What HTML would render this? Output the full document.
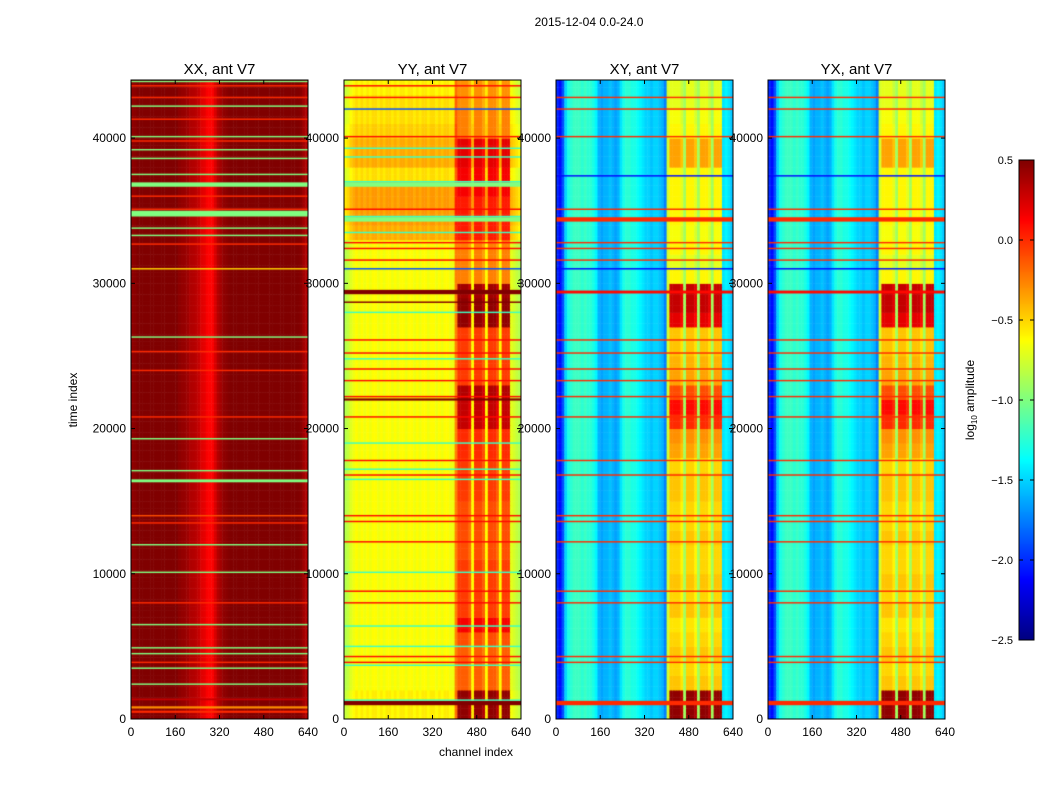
<!DOCTYPE html>
<html><head><meta charset="utf-8">
<style>
body{margin:0;background:#fff;}
#root{position:relative;width:1050px;height:800px;overflow:hidden;background:#fff;font-family:"Liberation Sans",sans-serif;}
canvas{position:absolute;}
svg{position:absolute;left:0;top:0;}
</style></head>
<body>
<div id="root">
<svg id="ov" width="1050" height="800"></svg>
</div>
<script>
// ---------- data ----------
const panelTitles = ["XX, ant V7","YY, ant V7","XY, ant V7","YX, ant V7"];
const xTicks = [0,160,320,480,640];
const yTicks = [0,10000,20000,30000,40000];
const cbTicks = [0.5,0.0,-0.5,-1.0,-1.5,-2.0,-2.5];
// channel profiles, 64 bins of 10 channels (log10 amplitude)
const chanXX = [0.45,0.47,0.5,0.5,0.5,0.5,0.5,0.5,0.5,0.5,0.5,0.5,0.5,0.5,0.5,0.5,0.5,0.46,0.44,0.43,0.41,0.36,0.35,0.33,0.3,0.22,0.2,0.14,0.12,0.14,0.24,0.35,0.4,0.45,0.47,0.49,0.5,0.5,0.5,0.5,0.5,0.5,0.5,0.5,0.5,0.5,0.5,0.5,0.5,0.5,0.5,0.5,0.5,0.5,0.5,0.5,0.5,0.5,0.5,0.5,0.5,0.47,0.4,0.35];
const chanYY = [-0.85,-0.8,-0.72,-0.67,-0.62,-0.67,-0.62,-0.67,-0.62,-0.67,-0.62,-0.62,-0.67,-0.62,-0.67,-0.62,-0.62,-0.67,-0.62,-0.67,-0.62,-0.62,-0.67,-0.62,-0.62,-0.67,-0.62,-0.67,-0.62,-0.62,-0.67,-0.62,-0.62,-0.67,-0.62,-0.67,-0.62,-0.62,-0.67,-0.67,-0.25,-0.25,-0.25,-0.25,-0.25,-0.25,-0.62,-0.25,-0.25,-0.25,-0.25,-0.62,-0.25,-0.25,-0.25,-0.25,-0.62,-0.25,-0.25,-0.25,-0.7,-0.75,-0.8,-0.85];
const chanXY = [-2.0,-2.1,-1.9,-1.5,-1.3,-1.25,-1.2,-1.2,-1.2,-1.25,-1.2,-1.25,-1.25,-1.3,-1.4,-1.6,-1.65,-1.6,-1.6,-1.55,-1.6,-1.65,-1.6,-1.45,-1.3,-1.25,-1.25,-1.3,-1.3,-1.35,-1.4,-1.45,-1.5,-1.5,-1.55,-1.5,-1.5,-1.55,-1.6,-1.75,-0.75,-0.75,-0.75,-0.75,-0.75,-0.75,-0.9,-0.75,-0.75,-0.75,-0.75,-0.9,-0.75,-0.75,-0.75,-0.75,-0.9,-0.75,-0.75,-0.75,-1.45,-1.4,-1.45,-1.55];
const chanYX = chanXY.slice();
// per-1000-time offsets (44 rows)
const timeOffYY = [0.05,0.05,0,0,0,0,0,0,0,0,0,0,0,0,0,0,0,0,0,0,0,0,0,0,0,0,0,0,0,0,0,0,0,0.25,0.3,0.3,0.3,0.1,0.25,0.25,0.15,0.1,0.1,0.05];
// block (channels 400-600) intensity per 1000 time units
const blockYY = [0.45,0.45,-0.15,-0.15,-0.15,-0.1,0.15,-0.05,-0.05,-0.05,-0.05,-0.1,-0.1,-0.1,-0.1,-0.05,-0.05,-0.05,0,0,0.3,0.3,0.35,-0.05,-0.05,-0.05,-0.05,0.45,0.45,0.4,-0.25,-0.25,-0.25,0.05,0.05,0.05,0.15,0.15,0.2,0.2,-0.25,-0.25,-0.3,-0.3];
const blockXY = [0.45,0.45,-0.45,-0.5,-0.45,-0.5,-0.55,-0.45,-0.5,-0.45,-0.5,-0.5,-0.45,-0.5,-0.5,-0.45,-0.45,-0.5,-0.35,-0.3,0.0,0.1,-0.1,-0.35,-0.4,-0.45,-0.45,0.2,0.3,0.3,-0.6,-0.7,-0.6,-0.65,-0.6,-0.6,-0.6,-0.6,-0.35,-0.35,-0.6,-0.65,-0.7,-0.7];
const blockYX = blockXY.slice();
// flagged rows: [time, thickness, value]
const flagsXX = [[500,150,0.0],[800,150,-0.3],[1350,120,0.3],[2400,100,-1.0],[3500,100,-1.0],[3900,100,0.0],[4500,100,-1.0],[4900,100,-1.0],[6500,100,-1.0],[8000,100,0.0],[10100,100,-1.0],[12000,100,-1.0],[13500,100,0.0],[14000,100,-0.1],[16400,200,-1.0],[17100,100,-1.0],[19300,100,-1.0],[20800,100,0.0],[24000,100,0.0],[25300,100,0.0],[26300,100,-1.0],[31000,100,-0.5],[32700,100,0.0],[33300,100,-1.0],[33800,100,-1.0],[34800,400,-1.0],[35100,100,0.0],[36000,100,0.0],[36800,300,-1.0],[37500,100,-1.0],[38600,100,-1.0],[39200,100,-1.0],[39800,100,0.0],[40100,100,-1.0],[41300,100,0.0],[42200,100,-1.0],[42800,100,0.0],[43600,100,0.0],[43900,100,-1.0]];
const flagsYY = [[1100,300,0.5],[1300,100,-1.2],[3700,100,-1.2],[3900,100,0.1],[4300,100,0.1],[5000,100,-1.2],[6400,100,-1.2],[8000,100,0.1],[8800,100,0.1],[10100,100,-1.2],[12200,100,0.1],[13600,100,0.1],[14000,100,0.1],[16500,100,-1.2],[16800,100,0.1],[17200,100,-1.2],[17800,100,0.1],[19000,100,-1.2],[20800,100,0.1],[22000,150,0.5],[22200,100,0.1],[23300,100,0.1],[24100,100,0.1],[24800,100,-1.2],[25200,100,0.1],[26100,100,0.1],[28000,100,-1.2],[28700,100,0.5],[29400,300,0.5],[31000,100,-1.9],[31600,100,0.1],[32400,100,0.1],[32800,100,0.1],[33500,100,-1.2],[34400,300,-1.0],[34600,100,-1.2],[35100,100,0.1],[36800,300,-1.0],[37000,100,-1.2],[38700,100,-1.2],[39300,100,-1.2],[40100,100,0.1],[42000,100,-1.9],[42800,100,0.1],[43600,100,0.1]];
const flagsXY = [[1100,300,0.0],[3900,100,0.0],[4300,100,0.0],[8000,100,0.0],[8800,100,0.0],[12200,100,0.0],[13600,100,0.0],[14000,100,0.0],[16800,100,0.0],[17800,100,0.0],[20800,100,0.0],[22200,100,0.0],[23300,100,0.0],[24100,100,0.0],[25200,100,0.0],[26100,100,0.0],[29400,200,0.1],[31000,100,-2.1],[31600,100,0.0],[32400,100,0.0],[32800,100,0.0],[34400,300,0.0],[35100,100,0.0],[37400,100,-2.1],[40100,100,0.0],[42000,100,0.0],[42800,100,0.0]];
const flagsYX = flagsXY.slice();

const chans = [chanXX,chanYY,chanXY,chanYX];
const offs = [null,timeOffYY,null,null];
const blocks = [null,blockYY,blockXY,blockYX];
const flags = [flagsXX,flagsYY,flagsXY,flagsYX];

// ---------- scales ----------
const panelX = [131,344,556,768], panelW = 177, pTop = 80, pBot = 719;
const tMax = 44000, cMax = 640, vMin = -2.5, vMax = 0.5;
const yScale = t => pBot - t/tMax*(pBot-pTop);
const xScale = (p,c) => panelX[p] + c/cMax*panelW;

function jet(v){
  let x = (v - vMin)/(vMax - vMin); x = Math.max(0,Math.min(1,x));
  const f = (a)=>Math.max(0,Math.min(1,1.5-Math.abs(4*x-a)));
  return `rgb(${Math.round(255*f(3))},${Math.round(255*f(2))},${Math.round(255*f(1))})`;
}

const root = document.getElementById('root');
const NS = 'http://www.w3.org/2000/svg';
const ov = document.getElementById('ov');
function st(tag, attrs, text){
  const e = document.createElementNS(NS, tag);
  for (const k in attrs) e.setAttribute(k, attrs[k]);
  if (text!==undefined) e.textContent = text;
  ov.appendChild(e); return e;
}

const tStep = 250;
for (let p=0;p<4;p++){
  const cv = document.createElement('canvas');
  
  
  cv.width = panelW; cv.height = pBot-pTop;
  cv.style.left = panelX[p]+'px'; cv.style.top = pTop+'px';
  root.insertBefore(cv, ov);
  const g = cv.getContext('2d');
  const ch = chans[p];
  for (let t=0;t<tMax;t+=tStep){
    const ti = Math.floor(t/1000);
    const off = offs[p] ? offs[p][ti] : 0;
    const y0 = yScale(t+tStep)-pTop, y1 = yScale(t)-pTop;
    for (let b=0;b<64;b++){
      let v = ch[b] + off;
      if (blocks[p] && b>=41 && b<60 && ![46,51,56].includes(b)) {
        v = blocks[p][ti] + ((b%5===0)? -0.1:0);
      }
      g.fillStyle = jet(v);
      const x0 = xScale(p,b*10)-panelX[p], x1 = xScale(p,(b+1)*10)-panelX[p];
      g.fillRect(x0, y0, x1-x0+0.5, y1-y0+0.5);
    }
  }
  for (const f of flags[p]){
    g.fillStyle = jet(f[2]);
    const ya = yScale(f[0]+f[1]/2)-pTop, yb = yScale(f[0]-f[1]/2)-pTop;
    g.fillRect(0, ya, panelW, Math.max(1.2, yb-ya));
  }
  const fr = st('rect',{x:panelX[p],y:pTop,width:panelW,height:pBot-pTop,fill:'none',stroke:'#000','stroke-width':1});
  
  
  const tt = st('text',{x:panelX[p]+panelW/2,y:74,'text-anchor':'middle','font-size':15},panelTitles[p]);
  
  
  for (const v of xTicks){
    const x = xScale(p,v);
    st('line',{x1:x,x2:x,y1:pBot,y2:pBot-4,stroke:'#000'});
    st('line',{x1:x,x2:x,y1:pTop,y2:pTop+4,stroke:'#000'});
    const l = st('text',{x:x,y:736,'text-anchor':'middle','font-size':12},String(v));
    
    
  }
  for (const v of yTicks){
    const y = yScale(v);
    st('line',{x1:panelX[p],x2:panelX[p]+4,y1:y,y2:y,stroke:'#000'});
    st('line',{x1:panelX[p]+panelW,x2:panelX[p]+panelW-4,y1:y,y2:y,stroke:'#000'});
    const l = st('text',{x:panelX[p]-5,y:y+4,'text-anchor':'end','font-size':12},String(v));
    
    
  }
}
// colorbar
const cbX=1019, cbW=15, cbTop=160, cbBot=640;
const cbv = document.createElement('canvas');


cbv.width=cbW; cbv.height=cbBot-cbTop; cbv.style.left=cbX+'px'; cbv.style.top=cbTop+'px';
root.insertBefore(cbv, ov);
const cg = cbv.getContext('2d');
for (let i=0;i<cbBot-cbTop;i++){ cg.fillStyle=jet(vMax-(i+0.5)/(cbBot-cbTop)*(vMax-vMin)); cg.fillRect(0,i,cbW,1); }
const cbf = st('rect',{x:cbX,y:cbTop,width:cbW,height:cbBot-cbTop,fill:'none',stroke:'#000'});


for (const v of cbTicks){
  const y = cbBot - (v-vMin)/(vMax-vMin)*(cbBot-cbTop);
  st('line',{x1:cbX,x2:cbX+4,y1:y,y2:y,stroke:'#000'});
  st('line',{x1:cbX+cbW,x2:cbX+cbW-4,y1:y,y2:y,stroke:'#000'});
  const l = st('text',{x:1013,y:y+4,'text-anchor':'end','font-size':11},(v<0?'\u2212':'')+Math.abs(v).toFixed(1));
  
  
}
</script>
<svg width="1050" height="800" style="position:absolute;left:0;top:0;pointer-events:none">
<text x="589" y="26" text-anchor="middle" font-size="12" font-family="Liberation Sans, sans-serif">2015-12-04 0.0-24.0</text>
<text x="476" y="756" text-anchor="middle" font-size="12" font-family="Liberation Sans, sans-serif">channel index</text>
<text transform="translate(77,400) rotate(-90)" text-anchor="middle" font-size="12" font-family="Liberation Sans, sans-serif">time index</text>
<text transform="translate(974,400) rotate(-90)" text-anchor="middle" font-size="12" font-family="Liberation Sans, sans-serif">log<tspan font-size="8" dy="3">10</tspan><tspan dy="-3"> amplitude</tspan></text>
</svg>
</body></html>
